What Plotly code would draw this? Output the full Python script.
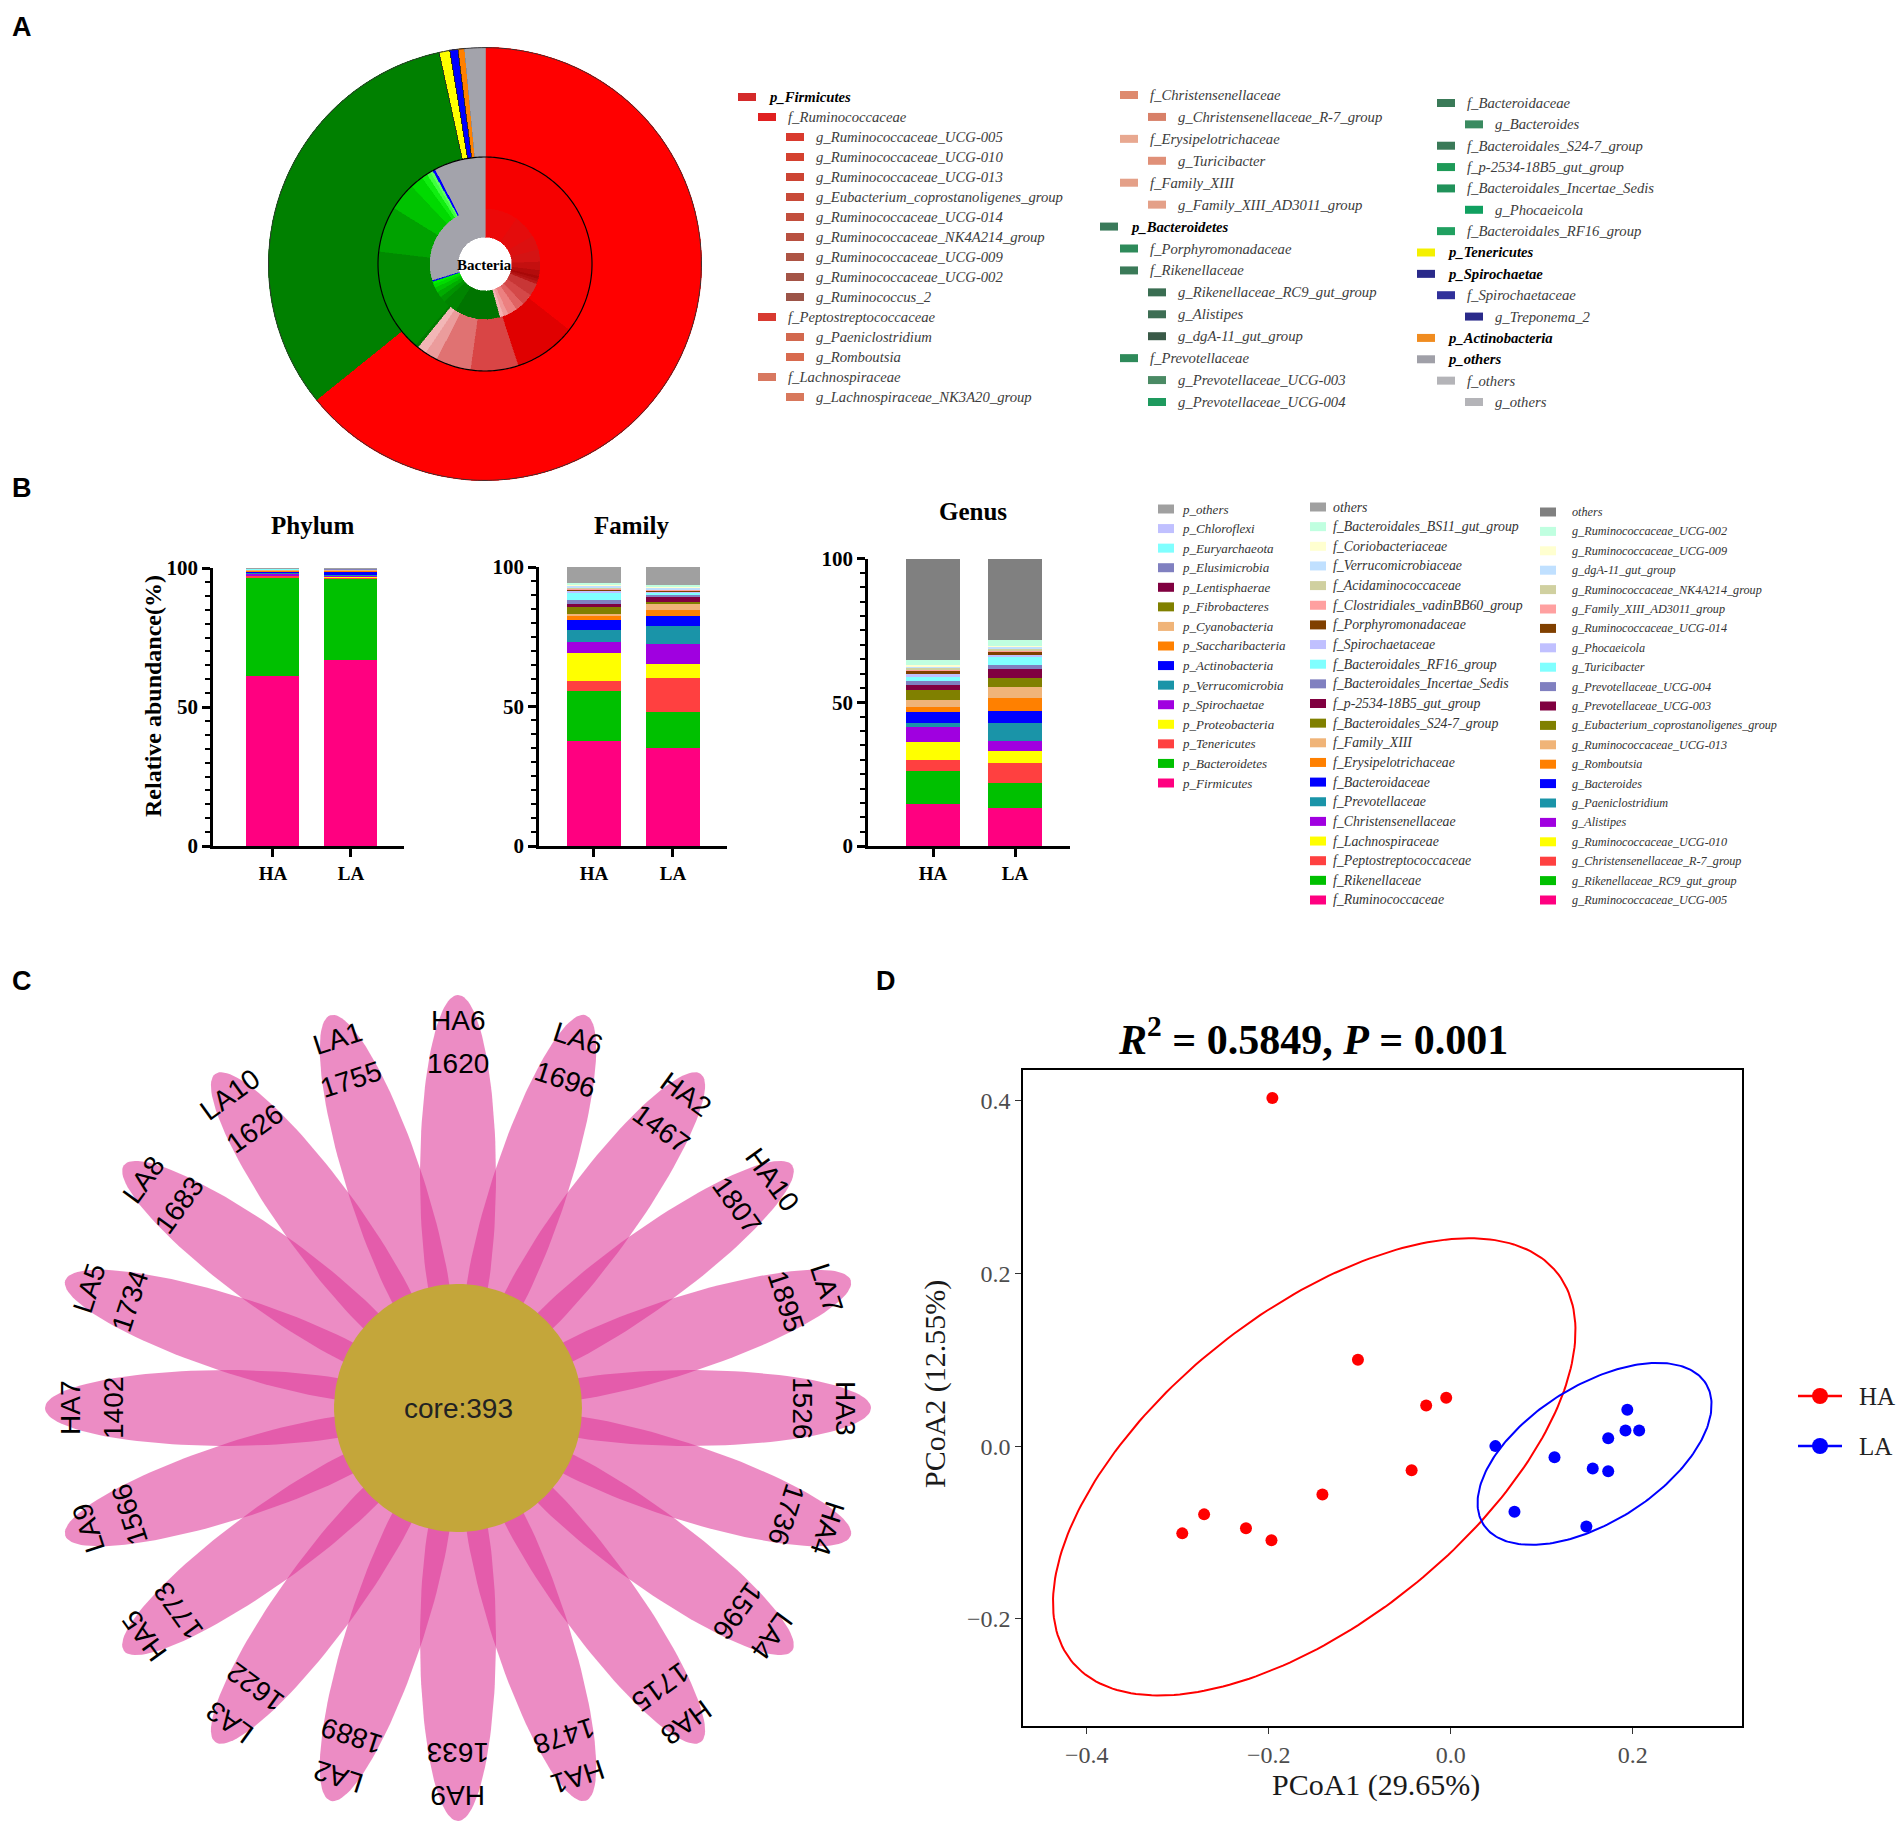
import numpy as np
import plotly.graph_objects as go

W, H = 1904, 1829
def fx(x): return x / W
def fy(y): return 1 - y / H
SERIF = "Liberation Serif"
SANS = "Liberation Sans"

# ======================= DATA =======================
# ---- Panel A: sunburst rings (percent of full circle, clockwise from 12 o'clock)
ring_phylum_names = ["p_Firmicutes", "p_Bacteroidetes", "p_Tenericutes", "p_Spirochaetae", "p_Actinobacteria", "p_others"]
ring_phylum_pct = [64.2, 32.4, 0.8, 0.6, 0.5, 1.5]
ring_phylum_colors = ["#ff0000", "#008000", "#ffff00", "#0000ff", "#ff8000", "#a3a3ab"]
ring_phylum_edges = ["#ff0000", "#008000", "#222222", "#222222", "#222222", "#a3a3ab"]

ring_family_names = ["f_Ruminococcaceae", "f_Peptostreptococcaceae", "f_Lachnospiraceae", "f_Christensenellaceae",
                     "f_Erysipelotrichaceae", "f_Family_XIII", "f_Porphyromonadaceae", "f_Rikenellaceae",
                     "f_Prevotellaceae", "f_Bacteroidaceae", "f_Bacteroidales_S24-7_group", "f_p-2534-18B5_gut_group",
                     "f_Bacteroidales_Incertae_Sedis", "f_Bacteroidales_RF16_group", "f_Spirochaetaceae", "f_others"]
ring_family_pct = [35.6, 9.4, 7.2, 5.3, 1.9, 1.4, 0.5, 15.6, 6.9, 4.2, 2.0, 0.9, 0.6, 0.4, 0.4, 7.7]
ring_family_colors = ["#f60000", "#e00000", "#d94545", "#e07272", "#eb9c9c", "#f2b6b6", "#007a00", "#008a00",
                      "#00a200", "#00c200", "#00da00", "#10ee10", "#40ff40", "#60ff60", "#0000ff", "#a3a3ab"]

ring_genus_names = ["g_Ruminococcaceae_UCG-005", "g_Ruminococcaceae_UCG-010", "g_Ruminococcaceae_UCG-013",
                    "g_Eubacterium_coprostanoligenes_group", "g_Ruminococcaceae_UCG-014",
                    "g_Ruminococcaceae_NK4A214_group", "g_Ruminococcaceae_UCG-009", "g_Ruminococcaceae_UCG-002",
                    "g_Ruminococcus_2", "g_Paeniclostridium", "g_Romboutsia", "g_Lachnospiraceae_NK3A20_group",
                    "g_Christensenellaceae_R-7_group", "g_Turicibacter", "g_Family_XIII_AD3011_group",
                    "g_Rikenellaceae_RC9_gut_group", "g_Alistipes", "g_dgA-11_gut_group", "g_Prevotellaceae_UCG-003",
                    "g_Prevotellaceae_UCG-004", "g_Bacteroides", "g_Phocaeicola", "g_Treponema_2", "g_others"]
ring_genus_pct = [9.7, 6.9, 4.2, 3.6, 2.5, 1.7, 0.8, 0.8, 0.8, 3.6, 3.3, 2.5, 2.8, 1.4, 1.1,
                  13.3, 4.2, 1.7, 1.7, 1.4, 1.1, 0.8, 0.4, 29.7]
ring_genus_colors = ["#ec0808", "#e40c0c", "#dc1010", "#d41414", "#c41010", "#b40c0c", "#a80808", "#b01010",
                     "#b81818", "#c83636", "#d44848", "#e06262", "#ec8080", "#f09a9a", "#f4b2b2",
                     "#007400", "#008400", "#009400", "#00ac00", "#00c400", "#00dc00", "#00f000", "#0000ff", "#a3a3ab"]

# ---- Panel A: hierarchical legend (three columns); level 0 = phylum, 1 = family, 2 = genus
legA1_names = ["p_Firmicutes", "f_Ruminococcaceae", "g_Ruminococcaceae_UCG-005", "g_Ruminococcaceae_UCG-010",
               "g_Ruminococcaceae_UCG-013", "g_Eubacterium_coprostanoligenes_group", "g_Ruminococcaceae_UCG-014",
               "g_Ruminococcaceae_NK4A214_group", "g_Ruminococcaceae_UCG-009", "g_Ruminococcaceae_UCG-002",
               "g_Ruminococcus_2", "f_Peptostreptococcaceae", "g_Paeniclostridium", "g_Romboutsia",
               "f_Lachnospiraceae", "g_Lachnospiraceae_NK3A20_group"]
legA1_levels = [0, 1, 2, 2, 2, 2, 2, 2, 2, 2, 2, 1, 2, 2, 1, 2]
legA1_colors = ["#d42a2a", "#e02020", "#d93a2e", "#d4412f", "#cc4433", "#c84a38", "#c24e3c", "#b85040",
                "#ad5444", "#a45446", "#9c5448", "#d83a30", "#d2684e", "#d86a4e", "#d87860", "#d8785c"]

legA2_names = ["f_Christensenellaceae", "g_Christensenellaceae_R-7_group", "f_Erysipelotrichaceae", "g_Turicibacter",
               "f_Family_XIII", "g_Family_XIII_AD3011_group", "p_Bacteroidetes", "f_Porphyromonadaceae",
               "f_Rikenellaceae", "g_Rikenellaceae_RC9_gut_group", "g_Alistipes", "g_dgA-11_gut_group",
               "f_Prevotellaceae", "g_Prevotellaceae_UCG-003", "g_Prevotellaceae_UCG-004"]
legA2_levels = [1, 2, 1, 2, 1, 2, 0, 1, 1, 2, 2, 2, 1, 2, 2]
legA2_colors = ["#de8a6e", "#d88068", "#e8a890", "#e09078", "#e4a088", "#e4a088", "#3a7a5a", "#2e8a5a",
                "#3a7a58", "#3a6e52", "#3e6e54", "#3a5a48", "#2e8a5a", "#4a8a64", "#1e9a5e"]

legA3_names = ["f_Bacteroidaceae", "g_Bacteroides", "f_Bacteroidales_S24-7_group", "f_p-2534-18B5_gut_group",
               "f_Bacteroidales_Incertae_Sedis", "g_Phocaeicola", "f_Bacteroidales_RF16_group", "p_Tenericutes",
               "p_Spirochaetae", "f_Spirochaetaceae", "g_Treponema_2", "p_Actinobacteria", "p_others",
               "f_others", "g_others"]
legA3_levels = [1, 2, 1, 1, 1, 2, 1, 0, 0, 1, 2, 0, 0, 1, 2]
legA3_colors = ["#3a7a58", "#3a8a60", "#3a7a58", "#1e9a58", "#20925a", "#10a060", "#20a060", "#f4f000",
                "#2a2a8a", "#30309a", "#2a2a8a", "#f08c20", "#a0a0a8", "#b4b4b8", "#b4b4b8"]

# ---- Panel B: stacked relative abundance (%), listed bottom -> top
groups = ["HA", "LA"]
palette_B = ["#ff0080", "#00c000", "#ff4040", "#ffff00", "#a000e0", "#1a94a8", "#0000ff", "#ff8000",
             "#f0b478", "#808000", "#800040", "#8080c0", "#80ffff", "#c0c0ff", "#804000", "#ffa0a0",
             "#d0d0a0", "#c0e0ff", "#ffffd0", "#c0ffe0"]

phylum_names = ["p_Firmicutes", "p_Bacteroidetes", "p_Tenericutes", "p_Proteobacteria", "p_Spirochaetae",
                "p_Verrucomicrobia", "p_Actinobacteria", "p_Saccharibacteria", "p_Cyanobacteria",
                "p_Fibrobacteres", "p_Lentisphaerae", "p_Elusimicrobia", "p_Euryarchaeota", "p_Chloroflexi",
                "p_others"]
phylum_HA = [61.0, 35.6, 0.6, 0.2, 0.6, 0.3, 0.6, 0.2, 0.2, 0.1, 0.1, 0.1, 0.1, 0.1, 0.2]
phylum_LA = [67.0, 29.3, 0.4, 0.2, 0.5, 0.2, 1.1, 0.4, 0.3, 0.1, 0.1, 0.1, 0.1, 0.1, 0.1]

family_names = ["f_Ruminococcaceae", "f_Rikenellaceae", "f_Peptostreptococcaceae", "f_Lachnospiraceae",
                "f_Christensenellaceae", "f_Prevotellaceae", "f_Bacteroidaceae", "f_Erysipelotrichaceae",
                "f_Family_XIII", "f_Bacteroidales_S24-7_group", "f_p-2534-18B5_gut_group",
                "f_Bacteroidales_Incertae_Sedis", "f_Bacteroidales_RF16_group", "f_Spirochaetaceae",
                "f_Porphyromonadaceae", "f_Clostridiales_vadinBB60_group", "f_Acidaminococcaceae",
                "f_Verrucomicrobiaceae", "f_Coriobacteriaceae", "f_Bacteroidales_BS11_gut_group", "others"]
family_HA = [37.6, 17.9, 3.5, 10.2, 3.8, 4.4, 3.6, 1.5, 0.8, 2.4, 1.2, 1.2, 2.7, 0.6, 0.5, 0.5, 0.3, 0.5, 0.4, 0.6, 5.8]
family_LA = [35.2, 13.0, 12.0, 5.0, 7.2, 6.5, 3.4, 2.3, 2.1, 0.8, 1.8, 0.9, 0.5, 0.5, 0.5, 0.2, 0.2, 0.5, 0.4, 0.5, 6.5]

genus_names = ["g_Ruminococcaceae_UCG-005", "g_Rikenellaceae_RC9_gut_group", "g_Christensenellaceae_R-7_group",
               "g_Ruminococcaceae_UCG-010", "g_Alistipes", "g_Paeniclostridium", "g_Bacteroides", "g_Romboutsia",
               "g_Ruminococcaceae_UCG-013", "g_Eubacterium_coprostanoligenes_group", "g_Prevotellaceae_UCG-003",
               "g_Prevotellaceae_UCG-004", "g_Turicibacter", "g_Phocaeicola", "g_Ruminococcaceae_UCG-014",
               "g_Family_XIII_AD3011_group", "g_Ruminococcaceae_NK4A214_group", "g_dgA-11_gut_group",
               "g_Ruminococcaceae_UCG-009", "g_Ruminococcaceae_UCG-002", "others"]
genus_HA = [14.7, 11.5, 3.7, 6.5, 5.0, 1.7, 3.7, 1.8, 2.3, 3.4, 1.8, 1.4, 1.5, 1.1, 0.8, 0.7, 0.5, 0.4, 0.5, 2.0, 35.0]
genus_LA = [13.5, 8.5, 7.1, 4.1, 3.4, 6.2, 4.3, 4.6, 3.8, 3.1, 3.0, 1.6, 2.7, 0.8, 0.9, 0.7, 0.5, 0.6, 0.5, 1.8, 28.3]

# ---- Panel C: flower plot (clockwise from top)
petal_names = ["HA6", "LA6", "HA2", "HA10", "LA7", "HA3", "HA4", "LA4", "HA8", "HA1",
               "HA9", "LA2", "LA3", "HA5", "LA9", "HA7", "LA5", "LA8", "LA10", "LA1"]
petal_counts = [1620, 1696, 1467, 1807, 1895, 1526, 1736, 1596, 1715, 1478,
                1633, 1889, 1622, 1773, 1566, 1402, 1734, 1683, 1626, 1755]
core_count = 393

# ---- Panel D: PCoA
pc_HA_x = [-0.196, -0.102, -0.027, -0.005, -0.043, -0.141, -0.271, -0.295, -0.225, -0.197]
pc_HA_y = [0.403, 0.100, 0.047, 0.056, -0.028, -0.056, -0.079, -0.101, -0.095, -0.109]
pc_LA_x = [0.049, 0.070, 0.114, 0.149, 0.156, 0.173, 0.173, 0.192, 0.207, 0.194]
pc_LA_y = [0.000, -0.076, -0.013, -0.093, -0.026, -0.029, 0.009, 0.018, 0.018, 0.042]
# confidence ellipses: center x, center y, semi-axis a, semi-axis b, rotation (deg)
ellipse_HA = [-0.150, -0.024, 0.349, 0.175, 41.1]
ellipse_LA = [0.158, -0.009, 0.147, 0.0775, 34.8]
pcoa_title = "<b><i>R</i><sup>2</sup> = 0.5849, <i>P</i> = 0.001</b>"

# ======================= FIGURE =======================
fig = go.Figure()
shapes, ann = [], []

def add_text(x, y, text, size, family=SERIF, color="black", xanchor="center", yanchor="middle",
             angle=0, xref="paper", yref="paper"):
    if xref == "paper":
        x = fx(x)
    if yref == "paper":
        y = fy(y)
    ann.append(dict(x=x, y=y, xref=xref, yref=yref, text=text, showarrow=False, xanchor=xanchor,
                    yanchor=yanchor, textangle=angle, font=dict(family=family, size=size, color=color)))

def add_rect(x0, y0, x1, y1, color):
    shapes.append(dict(type="rect", xref="paper", yref="paper", x0=fx(x0), x1=fx(x1), y0=fy(y1), y1=fy(y0),
                       fillcolor=color, line=dict(width=0), layer="above"))

# ---------- Panel labels
for lab, (lx, ly) in {"A": (22, 27), "B": (22, 488), "C": (22, 981), "D": (886, 981)}.items():
    add_text(lx, ly, f"<b>{lab}</b>", 27, family=SANS)

# ---------- Panel A: rings
CX, CY, R = 485, 264, 217
R_HOLE, R_IN, R_MID = 27, 55, 107

def ring_trace(names, pct, colors, r_in, r_out, edges=None, ew=0.6):
    pct = np.asarray(pct, float)
    start = np.concatenate([[0.0], np.cumsum(pct)[:-1]])
    return go.Barpolar(r=[r_out - r_in] * len(pct), base=[r_in] * len(pct),
                       theta=(start + pct / 2) * 3.6, width=pct * 3.6,
                       marker=dict(color=colors, line=dict(color=edges or colors, width=ew)),
                       text=names, hoverinfo="text", subplot="polar", showlegend=False)

fig.add_trace(ring_trace(ring_phylum_names, ring_phylum_pct, ring_phylum_colors, R_MID, R,
                         edges=ring_phylum_edges, ew=0.8))
fig.add_trace(ring_trace(ring_family_names, ring_family_pct, ring_family_colors, R_IN, R_MID))
fig.add_trace(ring_trace(ring_genus_names, ring_genus_pct, ring_genus_colors, R_HOLE, R_IN))
circ_theta = np.arange(0, 361, 1)
fig.add_trace(go.Scatterpolar(r=[R_MID] * len(circ_theta), theta=circ_theta, mode="lines",
                              line=dict(color="black", width=1.2), subplot="polar", showlegend=False,
                              hoverinfo="skip"))
fig.add_trace(go.Scatterpolar(r=[R - 0.6] * len(circ_theta), theta=circ_theta, mode="lines",
                              line=dict(color="#333333", width=1), subplot="polar", showlegend=False,
                              hoverinfo="skip"))
add_text(CX, CY + 1, "<b>Bacteria</b>", 15)

# ---------- Panel A legend
def tree_legend(names, levels, colors, x0, y_top, y_bot):
    offs = [0, 20, 48]
    n = len(names)
    step = (y_bot - y_top) / (n - 1)
    for i in range(n):
        y = y_top + i * step
        xs = x0 + offs[levels[i]]
        add_rect(xs, y - 4, xs + 18, y + 4, colors[i])
        if levels[i] == 0:
            add_text(xs + 28, y, f"<b><i>{names[i]}</i></b>", 14.7, color="black", xanchor="left")
        else:
            add_text(xs + 28, y, f"<i>{names[i]}</i>", 14.7, color="#3c3c3c", xanchor="left")

tree_legend(legA1_names, legA1_levels, legA1_colors, 738, 97, 397)
tree_legend(legA2_names, legA2_levels, legA2_colors, 1100, 95, 402)
tree_legend(legA3_names, legA3_levels, legA3_colors, 1417, 103, 402)

# ---------- Panel B: stacked bars
bar_panels = [
    dict(names=phylum_names, HA=phylum_HA, LA=phylum_LA, colors=palette_B[:14] + ["#a0a0a0"],
         xa="x", ya="y", x0=213, x1=404, ytop=568, ybot=846, xr=[-0.769, 1.68], bw=0.68,
         title="Phylum", tx=313, ty=525),
    dict(names=family_names, HA=family_HA, LA=family_LA, colors=palette_B[:20] + ["#a0a0a0"],
         xa="x2", ya="y2", x0=539, x1=727, ytop=567, ybot=846, xr=[-0.696, 1.684], bw=0.68,
         title="Family", tx=631, ty=525),
    dict(names=genus_names, HA=genus_HA, LA=genus_LA, colors=palette_B[:20] + ["#808080"],
         xa="x3", ya="y3", x0=868, x1=1070, ytop=558.6, ybot=846, xr=[-0.793, 1.67], bw=0.66,
         title="Genus", tx=973, ty=511),
]
axis_layout = {}
for p in bar_panels:
    for i, nm in enumerate(p["names"]):
        fig.add_trace(go.Bar(x=groups, y=[p["HA"][i], p["LA"][i]], name=nm, width=p["bw"],
                             marker=dict(color=p["colors"][i], line=dict(width=0)),
                             xaxis=p["xa"], yaxis=p["ya"], showlegend=False))
    xk = "xaxis" + p["xa"][1:]
    yk = "yaxis" + p["ya"][1:]
    axis_layout[xk] = dict(domain=[fx(p["x0"]), fx(p["x1"])], range=p["xr"], type="category",
                           anchor=p["ya"], showline=True, linecolor="black", linewidth=2.5,
                           ticks="outside", ticklen=8, tickwidth=2.5, tickcolor="black",
                           tickfont=dict(family=SERIF, size=19, color="black", weight="bold"),
                           showgrid=False, zeroline=False, fixedrange=True, automargin=False)
    axis_layout[yk] = dict(domain=[fy(p["ybot"]), fy(p["ytop"])], range=[0, 100], anchor=p["xa"],
                           tickvals=[0, 50, 100], showline=True, linecolor="black", linewidth=2.5,
                           ticks="outside", ticklen=8, tickwidth=2.5, tickcolor="black",
                           minor=dict(ticks="outside", ticklen=5, tickwidth=2, tickcolor="black", dtick=5),
                           tickfont=dict(family=SERIF, size=21, color="black", weight="bold"),
                           showgrid=False, zeroline=False, fixedrange=True, automargin=False)
    add_text(p["tx"], p["ty"], f"<b>{p['title']}</b>", 25)
add_text(153, 696, "<b>Relative abundance(%)</b>", 24, angle=-90)

# ---------- Panel B legends
def flat_legend(names, colors, x_sw, x_txt, y_top, y_bot, fs):
    n = len(names)
    step = (y_bot - y_top) / (n - 1)
    for i in range(n):
        j = n - 1 - i
        y = y_top + i * step
        add_rect(x_sw, y - 4.5, x_sw + 16, y + 4.5, colors[j])
        add_text(x_txt, y, f"<i>{names[j]}</i>", fs, color="#333333", xanchor="left")

flat_legend(phylum_names, bar_panels[0]["colors"], 1158, 1180, 509, 783, 13)
flat_legend(family_names, bar_panels[1]["colors"], 1310, 1331, 507, 900, 13.8)
flat_legend(genus_names, bar_panels[2]["colors"], 1540, 1570, 512, 900, 12.2)

# ---------- Panel C: flower
FCX, FCY, FH = 458, 1408, 420
P_TIP, P_IN, P_B = 413, 50, 38
P_A = (P_TIP - P_IN) / 2
P_C = (P_TIP + P_IN) / 2
tt = np.linspace(0, 2 * np.pi, 120)
n_pet = len(petal_names)
for k in range(n_pet):
    th = np.radians(360.0 * k / n_pet)
    u = P_C + P_A * np.cos(tt)
    v = P_B * np.sin(tt)
    px = u * np.sin(th) + v * np.cos(th)
    py = u * np.cos(th) - v * np.sin(th)
    fig.add_trace(go.Scatter(x=px, y=py, mode="lines", fill="toself", fillcolor="rgba(222,57,153,0.58)",
                             line=dict(width=0), xaxis="x4", yaxis="y4", showlegend=False,
                             hoverinfo="text", text=f"{petal_names[k]}: {petal_counts[k]}"))
CORE_R = 124
fig.add_trace(go.Scatter(x=CORE_R * np.cos(tt), y=CORE_R * np.sin(tt), mode="lines", fill="toself",
                         fillcolor="#c4a63a", line=dict(width=0), xaxis="x4", yaxis="y4",
                         showlegend=False, hoverinfo="skip"))
for k in range(n_pet):
    deg = 360.0 * k / n_pet
    th = np.radians(deg)
    ang = deg if deg <= 180 else deg - 360
    for rr, txt in ((388, petal_names[k]), (345, str(petal_counts[k]))):
        add_text(rr * np.sin(th), rr * np.cos(th), txt, 28, family=SANS, color="black",
                 angle=ang, xref="x4", yref="y4")
add_text(0, 0, f"core:{core_count}", 28, family=SANS, color="#222222", xref="x4", yref="y4")
axis_layout["xaxis4"] = dict(domain=[fx(FCX - FH), fx(FCX + FH)], range=[-FH, FH], visible=False,
                             anchor="y4", fixedrange=True, automargin=False)
axis_layout["yaxis4"] = dict(domain=[fy(FCY + FH), fy(FCY - FH)], range=[-FH, FH], visible=False,
                             anchor="x4", fixedrange=True, automargin=False)

# ---------- Panel D: PCoA
def ellipse_xy(par):
    cx, cy, a, b, ang = par
    t = np.linspace(0, 2 * np.pi, 240)
    phi = np.radians(ang)
    ex = cx + a * np.cos(t) * np.cos(phi) - b * np.sin(t) * np.sin(phi)
    ey = cy + a * np.cos(t) * np.sin(phi) + b * np.sin(t) * np.cos(phi)
    return ex, ey

for par, col in ((ellipse_HA, "#ff0000"), (ellipse_LA, "#0000ff")):
    ex, ey = ellipse_xy(par)
    fig.add_trace(go.Scatter(x=ex, y=ey, mode="lines", line=dict(color=col, width=2),
                             xaxis="x5", yaxis="y5", showlegend=False, hoverinfo="skip"))
fig.add_trace(go.Scatter(x=pc_HA_x, y=pc_HA_y, mode="markers", name="HA",
                         marker=dict(color="#ff0000", size=12), xaxis="x5", yaxis="y5", showlegend=False))
fig.add_trace(go.Scatter(x=pc_LA_x, y=pc_LA_y, mode="markers", name="LA",
                         marker=dict(color="#0000ff", size=12), xaxis="x5", yaxis="y5", showlegend=False))

d_axis = dict(showline=True, mirror=True, linecolor="black", linewidth=1.5, ticks="outside", ticklen=6,
              tickcolor="#333333", tickwidth=1.2, tickformat=".1f", showgrid=False, zeroline=False,
              tickfont=dict(family=SERIF, size=24, color="#4d4d4d"), fixedrange=True, automargin=False)
axis_layout["xaxis5"] = dict(d_axis, domain=[fx(1023), fx(1742)], range=[-0.470, 0.320],
                             tickvals=[-0.4, -0.2, 0.0, 0.2], anchor="y5")
axis_layout["yaxis5"] = dict(d_axis, domain=[fy(1726), fy(1069.5)], range=[-0.324, 0.436],
                             tickvals=[-0.2, 0.0, 0.2, 0.4], anchor="x5")
add_text(1313, 1036, pcoa_title, 42)
add_text(1376, 1785, "PCoA1 (29.65%)", 30, color="#1a1a1a")
add_text(935, 1384, "PCoA2 (12.55%)", 30, color="#1a1a1a", angle=-90)

# manual legend for panel D
for gname, col, ly in (("HA", "#ff0000", 1396), ("LA", "#0000ff", 1446)):
    shapes.append(dict(type="line", xref="paper", yref="paper", x0=fx(1798), x1=fx(1842), y0=fy(ly), y1=fy(ly),
                       line=dict(color=col, width=2.5)))
    shapes.append(dict(type="circle", xref="paper", yref="paper", x0=fx(1812), x1=fx(1828),
                       y0=fy(ly + 8), y1=fy(ly - 8), fillcolor=col, line=dict(width=0)))
    add_text(1857, ly, gname, 25, color="#222222", xanchor="left")

fig.update_layout(
    width=W, height=H, margin=dict(l=0, r=0, t=0, b=0, pad=0, autoexpand=False),
    paper_bgcolor="white", plot_bgcolor="white", barmode="stack", bargap=0,
    showlegend=False,
    polar=dict(domain=dict(x=[fx(CX - R), fx(CX + R)], y=[fy(CY + R), fy(CY - R)]),
               bgcolor="rgba(0,0,0,0)", barmode="overlay", hole=0,
               angularaxis=dict(visible=False, direction="clockwise", rotation=90),
               radialaxis=dict(visible=False, range=[0, R])),
    shapes=shapes, annotations=ann, **axis_layout)

fig.write_html("out.html", config={"displayModeBar": False},
               post_script="document.body.style.margin='0';document.body.style.overflow='hidden';")
